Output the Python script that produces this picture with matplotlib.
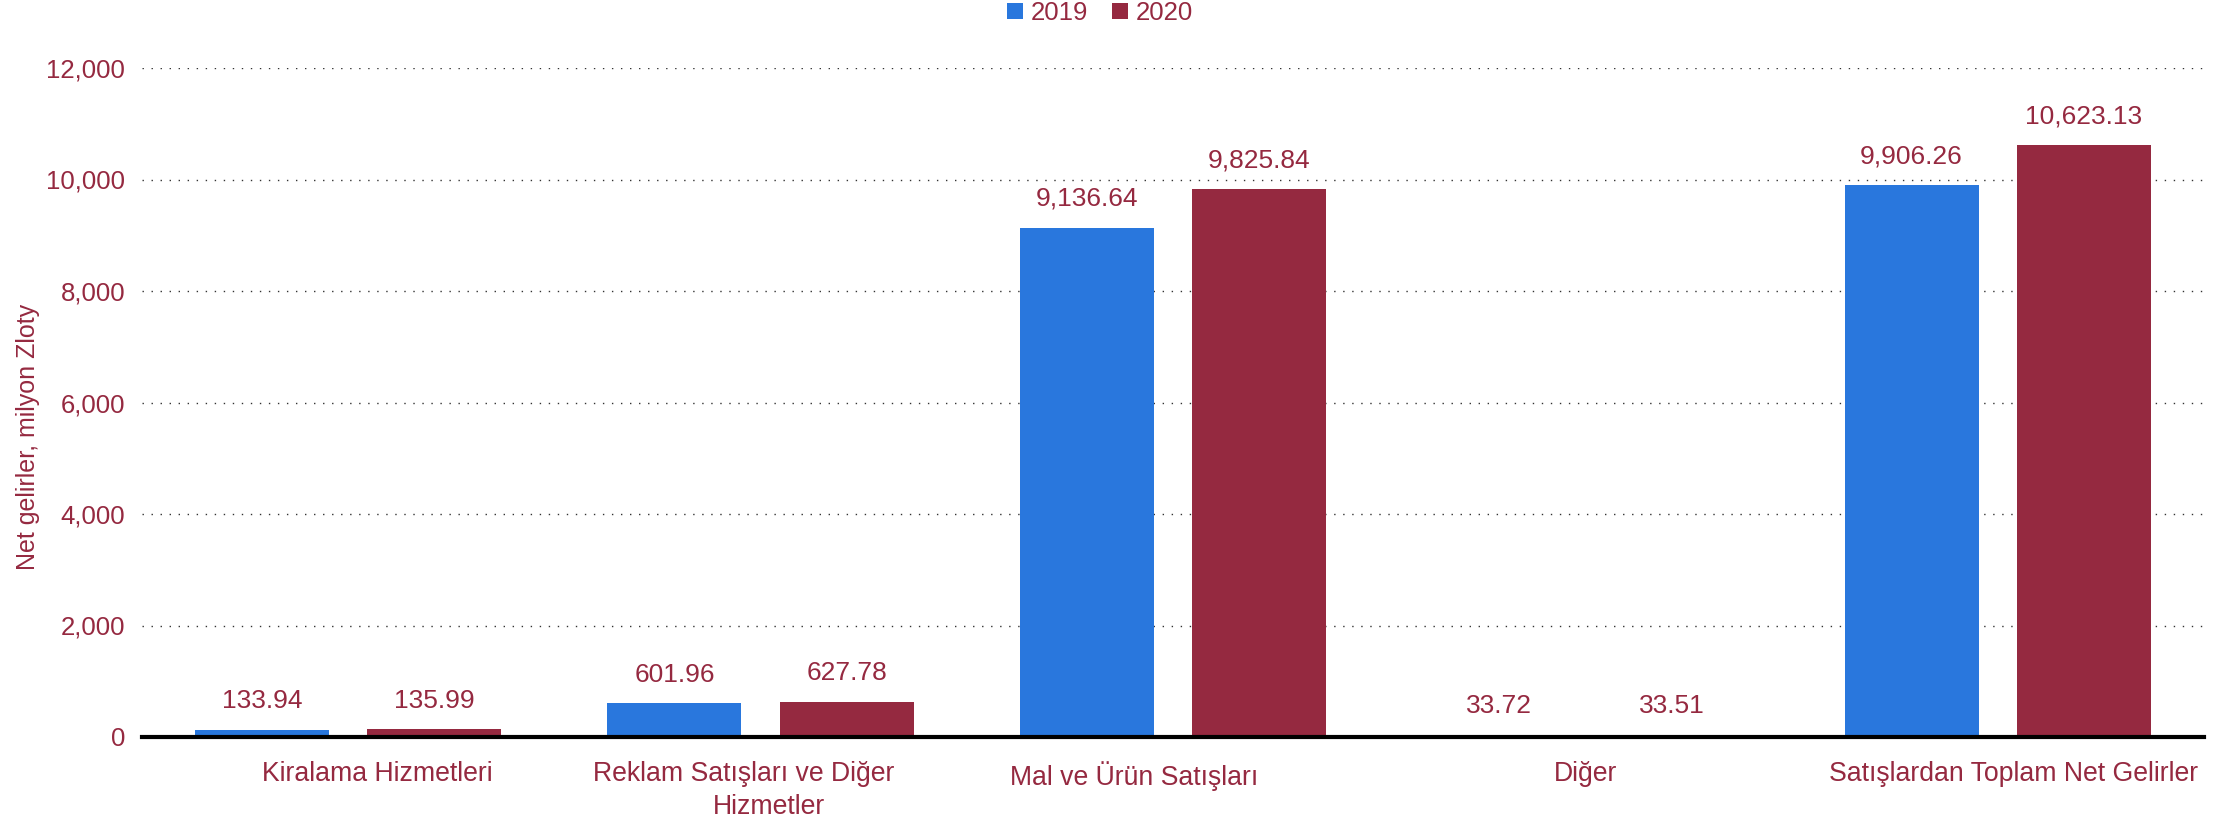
import matplotlib
matplotlib.use("Agg")
import matplotlib.pyplot as plt
from matplotlib import font_manager
import matplotlib.transforms as mtrans
import numpy as np

categories = ["Kiralama Hizmetleri", "Reklam Satışları ve Diğer\nHizmetler",
              "Mal ve Ürün Satışları", "Diğer", "Satışlardan Toplam Net Gelirler"]
years = ["2019", "2020"]
values_2019 = [133.94, 601.96, 9136.64, 33.72, 9906.26]
values_2020 = [135.99, 627.78, 9825.84, 33.51, 10623.13]
yticks = [0, 2000, 4000, 6000, 8000, 10000, 12000]

BLUE = "#2977DD"
RED = "#952940"
TXT = "#952940"

def has_font(name):
    try:
        font_manager.findfont(font_manager.FontProperties(family=name), fallback_to_default=False)
        return True
    except Exception:
        return False

REG = "Liberation Sans" if has_font("Liberation Sans") else "DejaVu Sans"
DPI = 100

fig = plt.figure(figsize=(22.32, 8.19), dpi=DPI)
ax = fig.add_axes([142/2232, 1-737/819, (2204-142)/2232, (737-68)/819])

x = np.arange(len(categories))
w = 0.325
off = 0.209
b1 = ax.bar(x - off, values_2019, w, color=BLUE, label=years[0], zorder=3)
b2 = ax.bar(x + off, values_2020, w, color=RED, label=years[1], zorder=3)

for bars, vals in ((b1, values_2019), (b2, values_2020)):
    for r, v in zip(bars, vals):
        ax.annotate(f"{v:,.2f}", (r.get_x() + r.get_width()/2, r.get_height()),
                    xytext=(0, 12), textcoords="offset points", ha="center", va="bottom",
                    fontsize=19, family=REG, color=TXT)

ax.set_xlim(-0.5, len(categories) - 0.5)
ax.set_ylim(0, 12000)
ax.set_yticks(yticks)
ax.set_yticklabels([f"{t:,}" for t in yticks], fontsize=18.5, family=REG, color=TXT)
ax.set_xticks(x)
ax.set_xticklabels([])
ax.tick_params(axis="both", length=0)
ax.tick_params(axis="y", pad=12)

# category labels (each line placed with a small horizontal nudge, in pixels)
line_nudges = [[29], [-17, 8], [-39], [0], [16]]
base = ax.get_xaxis_transform()
for i, (cat, nudges) in enumerate(zip(categories, line_nudges)):
    for j, (line, dx) in enumerate(zip(cat.split("\n"), nudges)):
        dy = -24 - j * 33
        tr = base + mtrans.ScaledTranslation(dx / DPI, dy / DPI, fig.dpi_scale_trans)
        ax.text(i, 0, line, transform=tr, ha="center", va="top",
                fontsize=19.2, family=REG, color=TXT)

ax.grid(axis="y", linestyle=(0, (1, 5.5)), color="#333333", linewidth=1, zorder=0)
ax.grid(axis="x", visible=False)
for s in ["top", "right", "left"]:
    ax.spines[s].set_visible(False)
ax.spines["bottom"].set_linewidth(3)
ax.spines["bottom"].set_color("black")
ax.spines["bottom"].set_zorder(4)

ax.set_ylabel("Net gelirler, milyon Zloty", fontsize=18, family=REG, color=TXT)
ax.yaxis.set_label_coords(-(142-40)/(2204-142), 0.448)

leg = fig.legend(handles=[b1, b2], labels=years, loc="center", bbox_to_anchor=(1100/2232, 1-13/819),
                 ncol=2, frameon=False, handlelength=0.6, handleheight=0.6,
                 handletextpad=0.3, columnspacing=0.95, prop={"family": REG, "size": 18.5})
for t in leg.get_texts():
    t.set_color(TXT)

fig.savefig("out.png", dpi=DPI)
